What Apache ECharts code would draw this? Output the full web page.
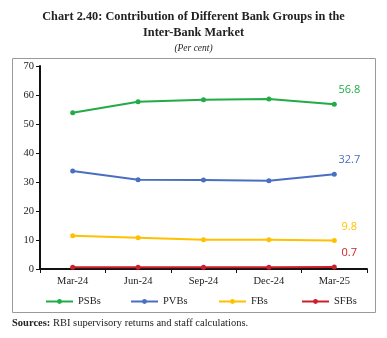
<!DOCTYPE html>
<html><head><meta charset="utf-8">
<script src="https://cdn.jsdelivr.net/npm/echarts@6/dist/echarts.min.js"></script>
<style>html,body{margin:0;padding:0;background:#fff}#c{width:387px;height:338px}</style>
</head><body><div id="c"></div>
<script>
const categories = ['Mar-24','Jun-24','Sep-24','Dec-24','Mar-25'];
const psbs = [53.9, 57.7, 58.4, 58.6, 56.8];
const pvbs = [33.8, 30.8, 30.7, 30.4, 32.7];
const fbs = [11.5, 10.8, 10.1, 10.1, 9.8];
const sfbs = [0.6, 0.6, 0.6, 0.6, 0.7];
const names = ['PSBs','PVBs','FBs','SFBs'];
const colors = ['#22ac45','#4a6fc0','#ffc000','#cc1f2a'];
const seriesData = [psbs, pvbs, fbs, sfbs];
const yTicks = {min:0, max:70, interval:10};
const serif = '"Liberation Serif", "DejaVu Serif", serif';
const sans = '"Open Sans", "Liberation Sans", sans-serif';

const chart = echarts.init(document.getElementById('c'), null, {renderer:'canvas'});
const legendLeft = [40, 125, 213, 296];
chart.setOption({
  animation:false,
  title:[
    {text:'Chart 2.40: Contribution of Different Bank Groups in the\nInter-Bank Market', left:'center', top:4,
     textStyle:{fontFamily:serif, fontWeight:'bold', fontSize:12.3, color:'#222', lineHeight:16}},
    {text:'(Per cent)', left:'center', top:38, textStyle:{fontFamily:serif, fontStyle:'italic', fontWeight:'normal', fontSize:9.5, color:'#222'}}
  ],
  graphic:[
    {type:'rect', shape:{x:12.5, y:58.5, width:363, height:254}, style:{fill:'none', stroke:'#9a9a9a', lineWidth:1}},
    {type:'text', left:12, top:318, style:{text:'{b|Sources:}{n| RBI supervisory returns and staff calculations.}',
      rich:{b:{fontWeight:'bold', fontFamily:serif, fontSize:10.5, fill:'#222'}, n:{fontFamily:serif, fontSize:10.5, fill:'#222'}}}}
  ],
  legend: names.map((n,i)=>({data:[n], left:legendLeft[i], top:291, itemWidth:27, itemHeight:6, itemGap:5,
    textStyle:{fontFamily:serif, fontSize:10.5, color:'#222'}})),
  grid:{left:40, right:20, top:66, bottom:69},
  xAxis:{type:'category', data:categories, boundaryGap:true,
    axisLine:{lineStyle:{color:'#111', width:2}},
    axisTick:{show:true, alignWithLabel:false, length:4, lineStyle:{color:'#111'}},
    axisLabel:{fontFamily:serif, fontSize:10.5, color:'#222', margin:7}},
  yAxis:{type:'value', min:yTicks.min, max:yTicks.max, interval:yTicks.interval,
    splitLine:{show:false},
    axisLine:{show:true, lineStyle:{color:'#111', width:2}},
    axisTick:{show:true, length:4, lineStyle:{color:'#111'}},
    axisLabel:{fontFamily:serif, fontSize:10.5, color:'#222', margin:6}},
  series: names.map((n,i)=>({
    name:n, type:'line', symbol:'circle', symbolSize:5,
    itemStyle:{color:colors[i]}, lineStyle:{color:colors[i], width:2},
    data: seriesData[i].map((v,j)=> j===seriesData[i].length-1 ?
      {value:v, label:{show:true, position:'top', offset:[15,-1], formatter:(p)=>p.value.toFixed(1),
        fontFamily:sans, fontSize:11, color:colors[i]}} : v)
  }))
});
</script></body></html>
